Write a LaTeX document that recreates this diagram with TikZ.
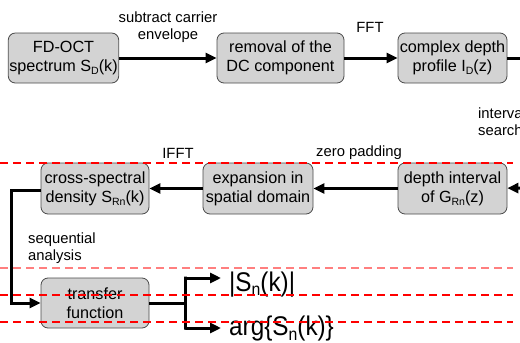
\documentclass[tikz,border=0pt]{standalone}
\usepackage{fontspec}
\setmainfont{Liberation Sans}
\usetikzlibrary{arrows.meta}
\newcommand{\lowsub}[1]{\raisebox{-0.35ex}{\fontsize{0.65em}{1em}\selectfont #1}}
\definecolor{boxfill}{HTML}{D3D3D3}
\definecolor{boxline}{HTML}{4A4A4A}
\tikzset{
  procbox/.style={draw=boxline, line width=0.8pt, fill=boxfill, rounded corners=7pt,
    minimum height=50pt, inner sep=1pt, align=center,
    font=\fontsize{16.2}{19}\selectfont},
  lbl/.style={font=\fontsize{14.8}{17}\selectfont, inner sep=0pt, align=center},
  flow/.style={line width=3pt, -{Triangle[length=11pt,width=10pt]}},
  flowline/.style={line width=3pt},
  redline/.style={draw=red, line width=1.2pt, dash pattern=on 8pt off 5pt},
  big/.style={font=\fontsize{27}{30}\selectfont, inner sep=0pt, anchor=base west, xscale=0.9}
}
\begin{document}
\begin{tikzpicture}[x=1pt,y=-1pt]
\useasboundingbox (0,0) rectangle (520,343);
\clip (0,0) rectangle (520,343);
% row 1
\node[procbox, minimum width=109pt] (b1) at (63.5,58) {FD-OCT\\spectrum S\lowsub{D}(k)};
\node[procbox, minimum width=127pt] (b2) at (280.5,58) {removal of the\\DC component};
\node[procbox, minimum width=109pt] (b3) at (452.5,58) {complex depth\\profile I\lowsub{D}(z)};
% row 2
\node[procbox, minimum width=108pt, minimum height=51pt] (c1) at (95,188.5) {cross-spectral\\density S\lowsub{Rn}(k)};
\node[procbox, minimum width=110pt, minimum height=51pt] (c2) at (258,188.5) {expansion in\\spatial domain};
\node[procbox, minimum width=109pt, minimum height=51pt] (c3) at (452.5,188.5) {depth interval\\of G\lowsub{Rn}(z)};
% row 3
\node[procbox, minimum width=108pt] (t) at (95,303) {transfer\\function};
% labels
\node[lbl] (l1) at (168,27) {subtract carrier\\envelope};
\node[lbl] (l2) at (370,27) {FFT};
\node[lbl, align=left, anchor=west] (l3) at (478,122) {interval\\search};
\node[lbl] (l4) at (178,153) {IFFT};
\node[lbl] (l5) at (359,153) {zero padding};
\node[lbl, align=left, anchor=west] (l6) at (28,248.5) {sequential\\analysis};
% outputs
\node[big] (o1) at (229,291) {|S\lowsub{n}(k)|};
\node[big] (o2) at (229,335.5) {arg\{S\lowsub{n}(k)\}};
% off-frame coordinates
\coordinate (e1) at (530,58);
\coordinate (e2) at (530,188);
\coordinate (k1) at (11,190);
\coordinate (k2) at (11,303);
\coordinate (j) at (185,303);
\coordinate (ju) at (185,278);
\coordinate (jd) at (185,328);
\coordinate (tu) at (221,278);
\coordinate (td) at (221,328);
% connectors
\draw[flow] (b1) -- (b2);
\draw[flow] (b2) -- (b3);
\draw[flowline] (b3) -- (e1);
\draw[flow] (e2) -- (c3);
\draw[flow] (c3) -- (c2);
\draw[flow] (c2) -- (c1);
\draw[flow, line join=miter] (c1.west |- k1) -- (k1) -- (k2) -- (t.west);
\draw[flowline] (t.east) -- (j);
\draw[flow, line join=miter] (j) -- ([yshift=1.5pt]ju) -- (ju) -- (tu);
\draw[flow, line join=miter] (j) -- ([yshift=-1.5pt]jd) -- (jd) -- (td);
% red dashed lines
\draw[redline] (0,163) -- (513,163);
\draw[redline, draw opacity=0.5] (0,268) -- (513,268);
\draw[redline] (0,295) -- (513,295);
\draw[redline] (0,322) -- (513,322);
\end{tikzpicture}
\end{document}
